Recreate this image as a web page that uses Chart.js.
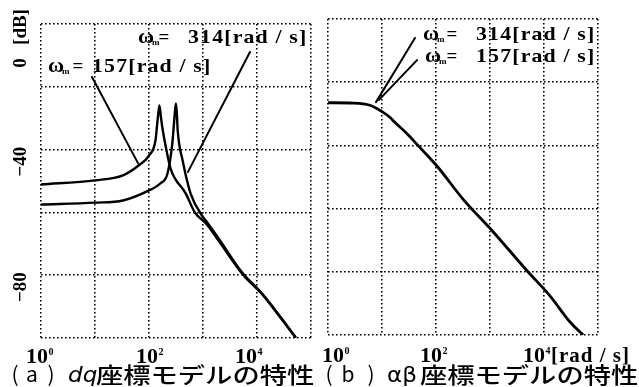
<!DOCTYPE html>
<html>
<head>
<meta charset="utf-8">
<script src="https://cdn.jsdelivr.net/npm/chart.js@4.4.1/dist/chart.umd.min.js"></script>
<style>
html, body { margin: 0; padding: 0; background: #fff; }
#wrap { position: relative; width: 639px; height: 387px; overflow: hidden; background: #fff; }
canvas { position: absolute; top: 0; }
#dq { left: 0; }
#ab { left: 320px; }
</style>
</head>
<body>
<div id="wrap">
  <canvas id="dq" width="320" height="387"></canvas>
  <canvas id="ab" width="319" height="387"></canvas>
</div>
<script>
"use strict";
// ω [rad/s] / gain [dB]
const OMEGA_157 = [1, 10, 33, 65, 100, 132, 142, 150, 156, 166, 176, 205, 252, 480, 705, 1150, 2000, 5350, 12200, 20000, 52500];
const DB_157 = [-51.1, -49.8, -48.2, -45.0, -41.9, -37.0, -31.7, -28.0, -25.9, -29.5, -32.8, -39.2, -46.1, -54.0, -60.0, -63.6, -69.3, -79.6, -85.9, -90.5, -100];
const OMEGA_314 = [1, 10, 33, 100, 162, 220, 270, 290, 302, 316, 330, 340, 420, 590, 1000, 1150, 2000, 5350, 12200, 20000, 52500];
const DB_314 = [-57.5, -56.9, -56.2, -53.0, -50.8, -47.6, -38.1, -31.7, -28.0, -25.3, -29.5, -33.9, -43.5, -54.0, -61.5, -62.8, -68.6, -79.2, -85.7, -90.3, -99.8];
const OMEGA_AB = [1, 3, 6, 10, 14, 18, 25, 32, 44, 70, 105, 316, 1150, 4800, 12900, 30000, 53000];
const DB_AB = [-26.5, -26.6, -27.3, -29.3, -31.1, -33.0, -35.2, -37.0, -39.6, -43.3, -46.6, -57.0, -67.4, -79.6, -87.6, -95.8, -100];

const DECADES = [1, 10, 100, 1000, 10000, 100000];
const DB_GRID = [0, -20, -40, -60, -80, -100];
const X_LABELS = [[1, '0'], [100, '2'], [10000, '4']];
const Y_LABELS = [[-40, '\u221240'], [-80, '\u221280']];

const SERIF = '"Liberation Serif", "DejaVu Serif", serif';
const GOTHIC = '"Noto Sans CJK JP", "Noto Sans", sans-serif';

function points(xs, ys) {
    return xs.map((x, i) => ({ x: x, y: ys[i] }));
}

function stretched(ctx, text, x, y, sx) {
    ctx.save();
    ctx.translate(x, y);
    ctx.scale(sx, 1);
    ctx.fillText(text, 0, 0);
    ctx.restore();
}

// 軸ラベル・注記・キャプション
const decor = {
    id: 'decor',
    afterDraw(chart, args, o) {
        const ctx = chart.ctx;
        const xs = chart.scales.x, ys = chart.scales.y;
        const px = v => xs.getPixelForValue(v);
        const py = v => ys.getPixelForValue(v);
        ctx.save();
        ctx.fillStyle = '#000';
        ctx.strokeStyle = '#000';
        ctx.textBaseline = 'alphabetic';

        // leader lines
        ctx.lineWidth = 2;
        ctx.lineCap = 'round';
        o.leaders.forEach(l => {
            ctx.beginPath();
            ctx.moveTo(px(l[0]), py(l[1]));
            ctx.lineTo(px(l[2]), py(l[3]));
            ctx.stroke();
        });

        // ωm = ... labels
        o.notes.forEach(n => {
            const x0 = px(n.w), yb = py(n.db);
            ctx.textAlign = 'left';
            ctx.font = 'bold 22px ' + SERIF;
            ctx.fillText('\u03c9', x0, yb);
            ctx.font = 'bold 9px ' + SERIF;
            ctx.fillText('m', x0 + 14, yb + 2);
            ctx.font = 'bold 19px ' + SERIF;
            ctx.textAlign = 'center';
            ctx.fillText('=', x0 + n.eq, yb);
            ctx.textAlign = 'left';
            ctx.letterSpacing = '1px';
            stretched(ctx, n.text, x0 + n.num, yb, 1.15);
            ctx.letterSpacing = '0px';
        });

        // x tick labels 10^n
        X_LABELS.forEach((t, i) => {
            const cx = px(t[0]) + o.xOff[i];
            const yb = chart.chartArea.bottom + o.tickGap;
            ctx.font = 'bold 22px ' + SERIF;
            ctx.textAlign = 'center';
            ctx.fillText('10', cx, yb);
            const w = ctx.measureText('10').width;
            ctx.textAlign = 'left';
            ctx.font = 'bold 10px ' + SERIF;
            ctx.fillText(t[1], cx + w / 2 + 0.5, yb - 8);
            if (o.unit && i === X_LABELS.length - 1) {
                ctx.font = 'bold 21px ' + SERIF;
                ctx.letterSpacing = '1px';
                ctx.fillText('[rad / s]', cx + w / 2 + 6, yb);
                ctx.letterSpacing = '0px';
            }
        });

        // y tick labels (rotated)
        if (o.yLabels) {
            const lx = 21;
            ctx.font = 'bold 19px ' + SERIF;
            ctx.textAlign = 'center';
            ctx.textBaseline = 'middle';
            const rot = (text, y) => {
                ctx.save();
                ctx.translate(lx, y);
                ctx.rotate(-Math.PI / 2);
                ctx.fillText(text, 0, 0);
                ctx.restore();
            };
            Y_LABELS.forEach(t => rot(t[1], py(t[0]) + 12));
            rot('0', py(0) + 39);
            rot('[dB]', py(0) + 3);
            ctx.textBaseline = 'alphabetic';
        }

        // caption
        const c = o.caption;
        const cb = 383;
        ctx.font = '21px ' + GOTHIC;
        ctx.textAlign = 'center';
        ctx.fillText('(', c.open, cb - 1);
        ctx.fillText(c.letter, c.letterX, cb - 1);
        ctx.fillText(')', c.close, cb - 1);
        ctx.textAlign = 'left';
        ctx.font = (c.italic ? 'italic ' : '') + '22px "DejaVu Sans", sans-serif';
        stretched(ctx, c.model, c.modelX, cb - 1, 1.05);
        ctx.font = '500 22px ' + GOTHIC;
        stretched(ctx, '座標モデルの特性', c.restX, cb, 1.24);
        ctx.restore();
    }
};

function makeChart(id, datasets, pad, deco) {
    const gridOpts = { color: '#000', lineWidth: 1.6, drawTicks: false };
    const borderOpts = { display: false, dash: [1.6, 2.4] };
    return new Chart(document.getElementById(id), {
        type: 'line',
        data: { datasets: datasets },
        options: {
            responsive: false,
            animation: false,
            layout: { padding: pad },
            plugins: {
                legend: { display: false },
                tooltip: { enabled: false },
                decor: deco
            },
            scales: {
                x: {
                    type: 'logarithmic',
                    min: 1,
                    max: 100000,
                    afterBuildTicks: s => { s.ticks = DECADES.map(v => ({ value: v })); },
                    ticks: { display: false },
                    grid: gridOpts,
                    border: borderOpts
                },
                y: {
                    type: 'linear',
                    min: -100,
                    max: 0,
                    afterBuildTicks: s => { s.ticks = DB_GRID.map(v => ({ value: v })); },
                    ticks: { display: false },
                    grid: gridOpts,
                    border: borderOpts
                }
            }
        },
        plugins: [decor]
    });
}

function curve(data, width) {
    return {
        data: data,
        borderColor: '#000',
        borderWidth: width,
        pointRadius: 0,
        fill: false,
        tension: 0.4,
        cubicInterpolationMode: 'monotone'
    };
}

window.addEventListener('DOMContentLoaded', () => {
    makeChart('dq', [
        curve(points(OMEGA_157, DB_157), 2.4),
        curve(points(OMEGA_314, DB_314), 2.4)
    ], { left: 41, right: 9, top: 24, bottom: 49 }, {
        leaders: [[8.8, -16.9, 62.5, -44.3], [7410, -8.9, 527, -47.1]],
        notes: [
            { w: 62.5, db: -6.05, eq: 26, num: 50, text: '314[rad / s]' },
            { w: 1.35, db: -15.3, eq: 30, num: 44, text: '157[rad / s]' }
        ],
        xOff: [-4, -2, -11],
        tickGap: 25,
        unit: false,
        yLabels: true,
        caption: { open: 15, letter: 'a', letterX: 32, close: 51, model: 'dq', modelX: 68, italic: true, restX: 96 }
    });
    makeChart('ab', [
        curve(points(OMEGA_AB, DB_AB), 2.8)
    ], { left: 8, right: 41, top: 19, bottom: 52 }, {
        leaders: [[40.8, -6.0, 7.74, -26.3], [44.5, -13.0, 8.8, -25.6]],
        notes: [
            { w: 57.4, db: -6.6, eq: 29, num: 53, text: '314[rad / s]' },
            { w: 62.5, db: -13.6, eq: 27, num: 51, text: '157[rad / s]' }
        ],
        xOff: [5, -5, -10],
        tickGap: 27,
        unit: true,
        yLabels: false,
        caption: { open: 9, letter: 'b', letterX: 28, close: 51, model: '\u03b1\u03b2', modelX: 67, italic: false, restX: 100 }
    });
});
</script>
</body>
</html>
